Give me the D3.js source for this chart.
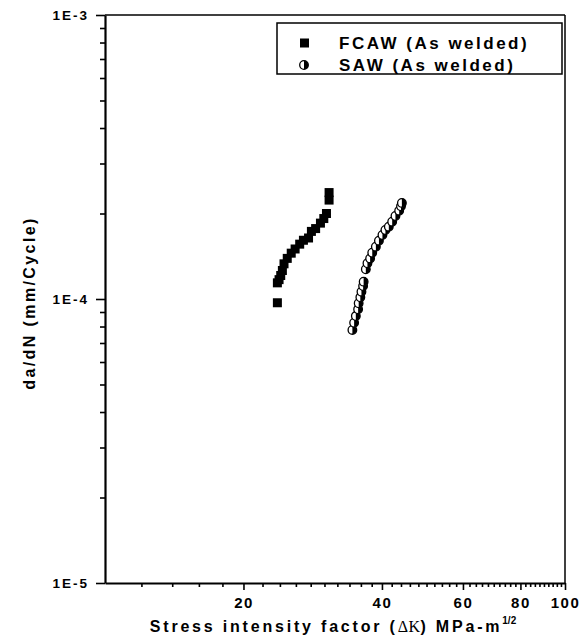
<!DOCTYPE html>
<meta charset="utf-8">

<!-- Load d3.js -->
<script src="https://d3js.org/d3.v7.min.js"></script>
<html>
<head>
  <title>Crack growth rate</title>
  <style>
    body { margin: 0; background: #fff; }
  </style>
</head>
<body>
  <div id="my_dataviz"></div>
</body>
</html>

<script>
  // FCAW (As welded) -- filled squares
  var fcawK = [23.7, 23.7, 23.9, 24.1, 24.3, 24.5, 24.9, 25.4, 25.9, 26.5, 27.0, 27.7, 28.1, 28.7, 29.4, 29.9, 30.3, 30.7, 30.7];
  var fcawRate = [0.97e-4, 1.14e-4, 1.17e-4, 1.21e-4, 1.26e-4, 1.33e-4, 1.39e-4, 1.45e-4, 1.50e-4, 1.56e-4, 1.61e-4, 1.64e-4, 1.73e-4, 1.77e-4, 1.85e-4, 1.92e-4, 2.00e-4, 2.23e-4, 2.37e-4];

  // SAW (As welded) -- half filled circles
  var sawK = [34.5, 34.8, 35.1, 35.5, 35.6, 35.9, 36.1, 36.4, 36.5, 36.9, 37.2, 37.7, 38.1, 38.8, 39.4, 40.1, 40.7, 41.4, 42.1, 42.8, 43.6, 44.0, 44.2];
  var sawRate = [0.778e-4, 0.825e-4, 0.871e-4, 0.920e-4, 0.966e-4, 1.014e-4, 1.061e-4, 1.111e-4, 1.151e-4, 1.273e-4, 1.336e-4, 1.390e-4, 1.455e-4, 1.528e-4, 1.604e-4, 1.680e-4, 1.750e-4, 1.797e-4, 1.872e-4, 1.960e-4, 2.046e-4, 2.12e-4, 2.18e-4];

  var xTicks = [20, 40, 60, 80, 100];
  var yTicks = [1e-5, 1e-4, 1e-3];
  var yTickLabels = ["1E-5", "1E-4", "1E-3"];
  var seriesNames = ["FCAW (As welded)", "SAW (As welded)"];

  var font = "'Liberation Sans', Arial, sans-serif";

  // set the dimensions and margins of the graph
  var margin = {top: 15, right: 22, bottom: 55, left: 105},
      width = 587 - margin.left - margin.right,
      height = 638 - margin.top - margin.bottom;

  var svg = d3.select("#my_dataviz")
    .append("svg")
      .attr("width", width + margin.left + margin.right)
      .attr("height", height + margin.top + margin.bottom)
    .append("g")
      .attr("transform", "translate(" + margin.left + "," + margin.top + ")");

  var x = d3.scaleLog().domain([10, 100]).range([0, width]);
  var y = d3.scaleLog().domain([1e-5, 1e-3]).range([height, 0]);

  // minor ticks (every 2 on x, 2..9 per decade on y)
  var xMinor = d3.range(12, 100, 2).filter(function(d) { return d % 20 != 0; });
  var yMinor = [];
  [1e-5, 1e-4].forEach(function(dec) {
    for (var k = 2; k <= 9; k++) yMinor.push(dec * k);
  });

  // frame: top and right lines
  svg.append("line").attr("x1", 0).attr("x2", width).attr("y1", 0).attr("y2", 0)
    .attr("stroke", "black").attr("stroke-width", 1.5);
  svg.append("line").attr("x1", width).attr("x2", width).attr("y1", 0).attr("y2", height)
    .attr("stroke", "black").attr("stroke-width", 1.5);

  // X axis
  var xMinorAxis = svg.append("g")
    .attr("transform", "translate(0," + height + ")")
    .call(d3.axisBottom(x).tickValues(xMinor).tickSize(4).tickSizeOuter(0).tickFormat(""));
  xMinorAxis.select(".domain").remove();

  var xAxis = svg.append("g")
    .attr("transform", "translate(0," + height + ")")
    .call(d3.axisBottom(x).tickValues(xTicks).tickSize(7).tickSizeOuter(0).tickPadding(7)
      .tickFormat(d3.format("d")));
  xAxis.select(".domain").attr("stroke-width", 2.2);
  xAxis.selectAll("text")
    .style("font-family", font)
    .style("font-size", "15px")
    .style("font-weight", "bold")
    .style("letter-spacing", "1.5px")
    .attr("fill", "black");

  // Y axis
  var yMinorAxis = svg.append("g")
    .call(d3.axisLeft(y).tickValues(yMinor).tickSize(5).tickSizeOuter(0).tickFormat(""));
  yMinorAxis.select(".domain").remove();

  var yAxis = svg.append("g")
    .call(d3.axisLeft(y).tickValues(yTicks).tickSize(9).tickSizeOuter(0).tickPadding(7)
      .tickFormat(function(d, i) { return yTickLabels[i]; }));
  yAxis.select(".domain").attr("stroke-width", 2.2);
  yAxis.selectAll("text")
    .style("font-family", font)
    .style("font-size", "13.5px")
    .style("font-weight", "bold")
    .style("letter-spacing", "2px")
    .attr("fill", "black");

  svg.selectAll(".tick line").attr("stroke-width", 1.6);

  // axis titles
  var xTitle = svg.append("text")
    .attr("x", width / 2 - 2)
    .attr("y", height + 49)
    .attr("text-anchor", "middle")
    .style("font-family", font)
    .style("font-size", "16px")
    .style("font-weight", "bold")
    .style("letter-spacing", "2.8px");
  xTitle.append("tspan").text("Stress intensity factor (");
  xTitle.append("tspan").style("font-family", "'Liberation Serif', serif")
    .style("font-weight", "normal").style("letter-spacing", "0.5px").text("\u0394K");
  xTitle.append("tspan").text(") MPa-m");
  xTitle.append("tspan").attr("dy", -8).style("font-size", "10px").style("letter-spacing", "0px").text("1/2");

  svg.append("text")
    .attr("transform", "translate(" + (-70) + "," + (height / 2 + 4) + ")rotate(-90)")
    .attr("text-anchor", "middle")
    .style("font-family", font)
    .style("font-size", "16px")
    .style("font-weight", "bold")
    .style("letter-spacing", "2.4px")
    .text("da/dN (mm/Cycle)");

  // half filled circle symbol
  function halfCircle(sel, r) {
    sel.append("circle").attr("r", r)
      .attr("fill", "white").attr("stroke", "black").attr("stroke-width", 1.3);
    sel.append("path")
      .attr("d", "M0," + (-r) + "A" + r + "," + r + " 0 0,1 0," + r + "Z")
      .attr("fill", "black");
  }

  // FCAW squares
  var fcaw = fcawK.map(function(k, i) { return {k: k, r: fcawRate[i]}; });
  svg.selectAll(".fcaw")
    .data(fcaw)
    .enter()
    .append("rect")
      .attr("class", "fcaw")
      .attr("x", function(d) { return x(d.k) - 4.5; })
      .attr("y", function(d) { return y(d.r) - 4.5; })
      .attr("width", 9)
      .attr("height", 9)
      .attr("fill", "black");

  // SAW circles
  var saw = sawK.map(function(k, i) { return {k: k, r: sawRate[i]}; });
  svg.selectAll(".saw")
    .data(saw)
    .enter()
    .append("g")
      .attr("class", "saw")
      .attr("transform", function(d) { return "translate(" + x(d.k) + "," + y(d.r) + ")"; })
      .each(function() { halfCircle(d3.select(this), 4.3); });

  // legend
  var legend = svg.append("g").attr("transform", "translate(" + (277 - margin.left) + "," + (23 - margin.top) + ")");
  legend.append("rect")
    .attr("width", 285).attr("height", 51)
    .attr("fill", "white").attr("stroke", "black").attr("stroke-width", 1.5);

  seriesNames.forEach(function(name, i) {
    var row = legend.append("g").attr("transform", "translate(0," + (20 + i * 22) + ")");
    if (i == 0) {
      row.append("rect").attr("x", 23).attr("y", -4.5).attr("width", 9).attr("height", 9).attr("fill", "black");
    } else {
      halfCircle(row.append("g").attr("transform", "translate(27,0)"), 4.3);
    }
    row.append("text")
      .attr("x", 62)
      .attr("y", 6)
      .style("font-family", font)
      .style("font-size", "17px")
      .style("font-weight", "bold")
      .style("letter-spacing", "2.5px")
      .text(name);
  });
</script>
